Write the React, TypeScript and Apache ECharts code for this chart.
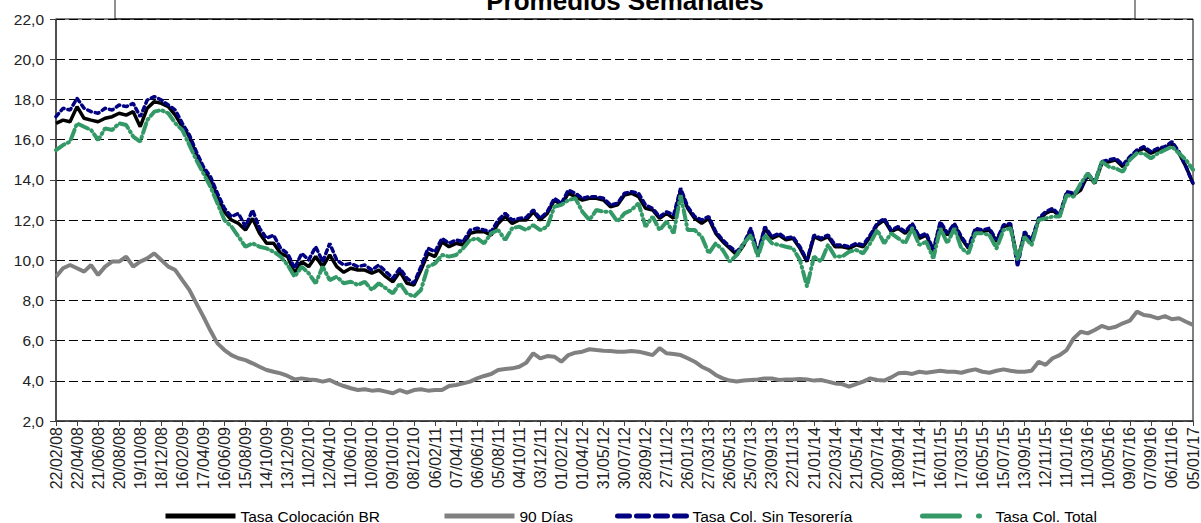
import React, { useEffect, useRef } from "react";
import * as echarts from "echarts";

const STEP_DAYS = 20;
const TOTAL_DAYS = 3240;

const TICK_LABELS = [
  "22/02/08", "22/04/08", "21/06/08", "20/08/08", "19/10/08", "18/12/08",
  "16/02/09", "17/04/09", "16/06/09", "15/08/09", "14/10/09", "13/12/09",
  "11/02/10", "12/04/10", "11/06/10", "10/08/10", "09/10/10", "08/12/10",
  "06/02/11", "07/04/11", "06/06/11", "05/08/11", "04/10/11", "03/12/11",
  "01/02/12", "01/04/12", "31/05/12", "30/07/12", "28/09/12", "27/11/12",
  "26/01/13", "27/03/13", "26/05/13", "25/07/13", "23/09/13", "22/11/13",
  "21/01/14", "22/03/14", "21/05/14", "20/07/14", "18/09/14", "17/11/14",
  "16/01/15", "17/03/15", "16/05/15", "15/07/15", "13/09/15", "12/11/15",
  "11/01/16", "11/03/16", "10/05/16", "09/07/16", "07/09/16", "06/11/16",
  "05/01/17",
];

const TASA_BR = [
  16.81, 16.97, 16.89, 17.64, 17.06, 16.97, 16.89, 17.06, 17.14, 17.31,
  17.22, 17.39, 16.64, 17.56, 17.89, 17.8, 17.64, 17.22, 16.64, 16.15,
  15.23, 14.49, 13.99, 13.16, 12.41, 12.0, 11.83, 11.5, 12.08, 11.34,
  10.84, 10.84, 10.34, 10.18, 9.35, 9.93, 9.68, 10.18, 9.68, 10.26,
  9.68, 9.4, 9.6, 9.51, 9.51, 9.35, 9.51, 9.18, 8.93, 9.43,
  8.85, 8.77, 9.51, 10.34, 10.18, 10.92, 10.67, 10.84, 10.76, 11.34,
  11.42, 11.42, 11.25, 11.83, 12.17, 11.83, 12.0, 12.0, 12.41, 12.0,
  12.33, 12.99, 12.75, 13.33, 13.16, 12.99, 13.08, 13.08, 12.99, 12.66,
  12.75, 13.24, 13.33, 13.16, 12.58, 12.5, 12.08, 12.33, 12.08, 13.49,
  12.58, 12.08, 11.83, 12.08, 11.34, 10.92, 10.59, 10.26, 10.76, 11.5,
  10.26, 11.59, 11.09, 11.25, 11.01, 11.09, 10.59, 9.93, 11.17, 11.01,
  11.17, 10.67, 10.67, 10.59, 10.76, 10.67, 11.17, 11.75, 12.0, 11.42,
  11.59, 11.34, 11.75, 11.09, 11.25, 10.42, 11.83, 11.25, 11.75, 11.09,
  10.59, 11.5, 11.42, 11.5, 10.92, 11.67, 11.75, 10.01, 11.34, 10.92,
  12.0, 12.33, 12.5, 12.17, 13.33, 13.24, 13.49, 14.24, 13.82, 14.82,
  14.9, 14.99, 14.65, 15.07, 15.4, 15.57, 15.32, 15.48, 15.57, 15.81,
  15.32, 14.65, 13.82,
];

const DIAS_90 = [
  9.18, 9.6, 9.76, 9.6, 9.43, 9.76, 9.26, 9.68, 9.93, 9.93,
  10.18, 9.68, 9.93, 10.09, 10.34, 10.01, 9.68, 9.51, 9.01, 8.52,
  7.85, 7.19, 6.5, 5.86, 5.53, 5.28, 5.12, 5.03, 4.87, 4.7,
  4.54, 4.45, 4.37, 4.24, 4.07, 4.12, 4.07, 4.04, 3.96, 4.04,
  3.87, 3.74, 3.63, 3.54, 3.58, 3.51, 3.54, 3.46, 3.38, 3.54,
  3.41, 3.54, 3.58, 3.51, 3.54, 3.54, 3.74, 3.79, 3.87, 3.96,
  4.12, 4.24, 4.34, 4.54, 4.59, 4.62, 4.7, 4.9, 5.37, 5.12,
  5.23, 5.2, 4.95, 5.28, 5.4, 5.45, 5.57, 5.53, 5.5, 5.48,
  5.45, 5.45, 5.48, 5.45, 5.37, 5.28, 5.62, 5.37, 5.33, 5.28,
  5.12, 4.95, 4.7, 4.54, 4.29, 4.12, 4.01, 3.96, 4.01, 4.04,
  4.07, 4.12, 4.12, 4.04, 4.07, 4.07, 4.09, 4.07, 4.01, 4.04,
  3.96, 3.87, 3.84, 3.71, 3.84, 3.96, 4.12, 4.04, 4.01, 4.17,
  4.37, 4.4, 4.34, 4.45, 4.4, 4.45, 4.5, 4.45, 4.45, 4.4,
  4.5, 4.57, 4.45, 4.4, 4.5, 4.57, 4.5, 4.45, 4.45, 4.5,
  4.95, 4.79, 5.12, 5.28, 5.53, 6.11, 6.44, 6.36, 6.53, 6.73,
  6.61, 6.69, 6.86, 6.99, 7.44, 7.27, 7.22, 7.11, 7.22, 7.06,
  7.11, 6.94, 6.78,
];

const SIN_TESORERIA = [
  17.14, 17.56, 17.47, 18.05, 17.56, 17.39, 17.31, 17.56, 17.47, 17.72,
  17.64, 17.8, 17.14, 17.97, 18.14, 17.97, 17.72, 17.47, 16.81, 16.23,
  15.4, 14.65, 14.16, 13.33, 12.58, 12.17, 12.33, 11.67, 12.5, 11.59,
  11.09, 11.25, 10.59, 10.34, 9.6, 10.34, 10.01, 10.67, 9.93, 10.84,
  10.01, 9.76, 9.84, 9.68, 9.76, 9.51, 9.76, 9.43, 9.1, 9.6,
  9.1, 8.85, 9.68, 10.59, 10.42, 11.09, 10.84, 11.01, 10.92, 11.5,
  11.59, 11.5, 11.42, 12.0, 12.33, 12.0, 12.08, 12.13, 12.5, 12.08,
  12.41, 13.08, 12.83, 13.49, 13.33, 13.08, 13.16, 13.16, 13.08, 12.75,
  12.83, 13.33, 13.41, 13.33, 12.75, 12.58, 12.17, 12.41, 12.25, 13.58,
  12.66, 12.17, 12.0, 12.17, 11.42, 11.01, 10.67, 10.42, 10.84, 11.59,
  10.34, 11.67, 11.17, 11.34, 11.09, 11.17, 10.67, 10.01, 11.25, 11.09,
  11.25, 10.76, 10.76, 10.67, 10.84, 10.76, 11.25, 11.83, 12.08, 11.5,
  11.67, 11.42, 11.83, 11.17, 11.34, 10.51, 11.92, 11.34, 11.83, 11.17,
  10.67, 11.59, 11.5, 11.59, 11.0, 11.75, 11.83, 9.68, 11.42, 11.0,
  12.08, 12.41, 12.58, 12.25, 13.41, 13.33, 13.57, 14.32, 13.91, 14.9,
  14.99, 15.07, 14.74, 15.15, 15.48, 15.65, 15.4, 15.57, 15.65, 15.9,
  15.4, 14.65, 13.82,
];

const COL_TOTAL = [
  15.48, 15.73, 15.9, 16.81, 16.64, 16.48, 15.98, 16.56, 16.48, 16.81,
  16.73, 16.15, 15.9, 16.97, 17.39, 17.47, 17.31, 16.81, 16.48, 15.73,
  14.98, 14.32, 13.66, 12.83, 12.0, 11.67, 11.17, 10.67, 10.84, 10.67,
  10.59, 10.42, 10.18, 9.76, 9.18, 9.68, 9.35, 8.85, 9.68, 9.01,
  9.18, 8.85, 8.93, 8.77, 8.93, 8.52, 8.85, 8.6, 8.35, 8.85,
  8.35, 8.19, 8.52, 9.68, 9.84, 10.26, 10.18, 10.26, 10.59, 11.01,
  11.09, 10.84, 11.34, 11.5, 11.01, 11.59, 11.67, 11.5, 11.75, 11.5,
  11.67, 12.66, 12.75, 12.99, 13.08, 12.41, 12.0, 12.5, 12.41, 12.41,
  11.92, 12.33, 12.5, 12.83, 11.67, 12.17, 11.5, 11.92, 11.34, 13.24,
  11.5, 11.5, 11.17, 10.34, 10.84, 10.51, 9.93, 10.26, 10.84, 11.25,
  10.18, 11.25, 10.84, 10.76, 10.67, 10.59, 10.01, 8.7, 10.18, 9.93,
  10.76, 10.18, 10.18, 10.42, 10.51, 10.34, 10.84, 11.5, 10.84, 11.34,
  11.09, 10.84, 11.59, 10.76, 10.92, 10.09, 11.59, 10.84, 11.59, 10.59,
  10.34, 11.34, 11.34, 11.25, 10.59, 11.5, 11.59, 10.01, 11.17, 10.75,
  12.0, 12.08, 12.17, 12.17, 13.24, 13.16, 13.82, 14.32, 13.82, 14.9,
  14.65, 14.57, 14.4, 14.99, 15.32, 15.32, 15.07, 15.32, 15.48, 15.65,
  15.32, 14.99, 14.5,
];

const FONT = "'Liberation Sans', Arial, sans-serif";

const toPairs = (arr: number[]) => arr.map((v, i) => [i * STEP_DAYS, v]);

export default function App() {
  const ref = useRef<HTMLDivElement>(null);

  useEffect(() => {
    document.body.style.margin = "0";
    if (!ref.current) return;
    const chart = echarts.init(ref.current, undefined, { renderer: "svg" });

    const legendBase = {
      top: 508,
      padding: 0,
      itemWidth: 70,
      itemHeight: 14,
      itemStyle: { opacity: 0 },
      textStyle: { fontFamily: FONT, fontSize: 15.5, color: "#000" },
      selectedMode: false,
    };

    chart.setOption({
      animation: false,
      backgroundColor: "#fff",
      grid: {
        left: 56,
        right: 6,
        top: 19,
        bottom: 102,
        show: true,
        borderColor: "#000",
        borderWidth: 1,
      },
      graphic: [
        {
          type: "rect",
          shape: { x: 115, y: -40, width: 1020, height: 59 },
          style: { fill: "#fff", stroke: "#222", lineWidth: 1 },
          z: -1,
        },
        {
          type: "text",
          x: 625,
          y: 14,
          style: {
            text: "Promedios Semanales",
            font: "bold 26px " + FONT,
            fill: "#000",
            textAlign: "center",
            textVerticalAlign: "bottom",
          },
        },
      ],
      legend: [
        { ...legendBase, left: 163, data: ["Tasa Colocación BR"], lineStyle: { width: 5 } },
        { ...legendBase, left: 442, data: ["90 Días"], lineStyle: { width: 5 } },
        {
          ...legendBase,
          left: 615,
          data: ["Tasa Col. Sin Tesorería"],
          lineStyle: { type: [12, 7], width: 5 },
        },
        {
          ...legendBase,
          left: 920,
          itemWidth: 68,
          data: ["Tasa Col. Total"],
          lineStyle: { type: [37, 19, 1, 30], width: 5 },
        },
      ],
      xAxis: {
        type: "value",
        min: 0,
        max: TOTAL_DAYS,
        interval: 60,
        axisLine: { show: true, lineStyle: { color: "#404040", width: 1.5 } },
        axisTick: { show: true, length: 5, lineStyle: { color: "#404040" } },
        splitLine: { show: false },
        axisLabel: {
          rotate: 90,
          margin: 6,
          fontFamily: FONT,
          fontSize: 16,
          color: "#222",
          showMinLabel: true,
          showMaxLabel: true,
          formatter: (v: number) => TICK_LABELS[Math.round(v / 60)] ?? "",
        },
      },
      yAxis: {
        type: "value",
        min: 2,
        max: 22,
        interval: 2,
        axisLine: { show: true, lineStyle: { color: "#404040", width: 1.5 } },
        axisTick: { show: true, length: 6, lineStyle: { color: "#404040" } },
        splitLine: {
          show: true,
          lineStyle: { color: "#000", width: 1, type: [9, 4] },
        },
        axisLabel: {
          margin: 12,
          fontFamily: FONT,
          fontSize: 15.5,
          color: "#222",
          formatter: (v: number) => v.toFixed(1).replace(".", ","),
        },
      },
      series: [
        {
          name: "90 Días",
          type: "line",
          data: toPairs(DIAS_90),
          showSymbol: false,
          symbol: "none",
          lineStyle: { color: "#808080", width: 4 },
          itemStyle: { color: "#808080" },
          z: 2,
        },
        {
          name: "Tasa Colocación BR",
          type: "line",
          data: toPairs(TASA_BR),
          showSymbol: false,
          symbol: "none",
          lineStyle: { color: "#000", width: 3.5 },
          itemStyle: { color: "#000" },
          z: 3,
        },
        {
          name: "Tasa Col. Sin Tesorería",
          type: "line",
          data: toPairs(SIN_TESORERIA),
          showSymbol: false,
          symbol: "none",
          lineStyle: { color: "#000080", width: 3.5, type: [4, 4], cap: "round" },
          itemStyle: { color: "#000080" },
          z: 4,
        },
        {
          name: "Tasa Col. Total",
          type: "line",
          data: toPairs(COL_TOTAL),
          showSymbol: false,
          symbol: "none",
          lineStyle: { color: "#339966", width: 4, type: [10, 4, 1, 4], cap: "round" },
          itemStyle: { color: "#339966" },
          z: 5,
        },
      ],
    });

    return () => chart.dispose();
  }, []);

  return <div ref={ref} style={{ width: 1201, height: 523 }} />;
}
